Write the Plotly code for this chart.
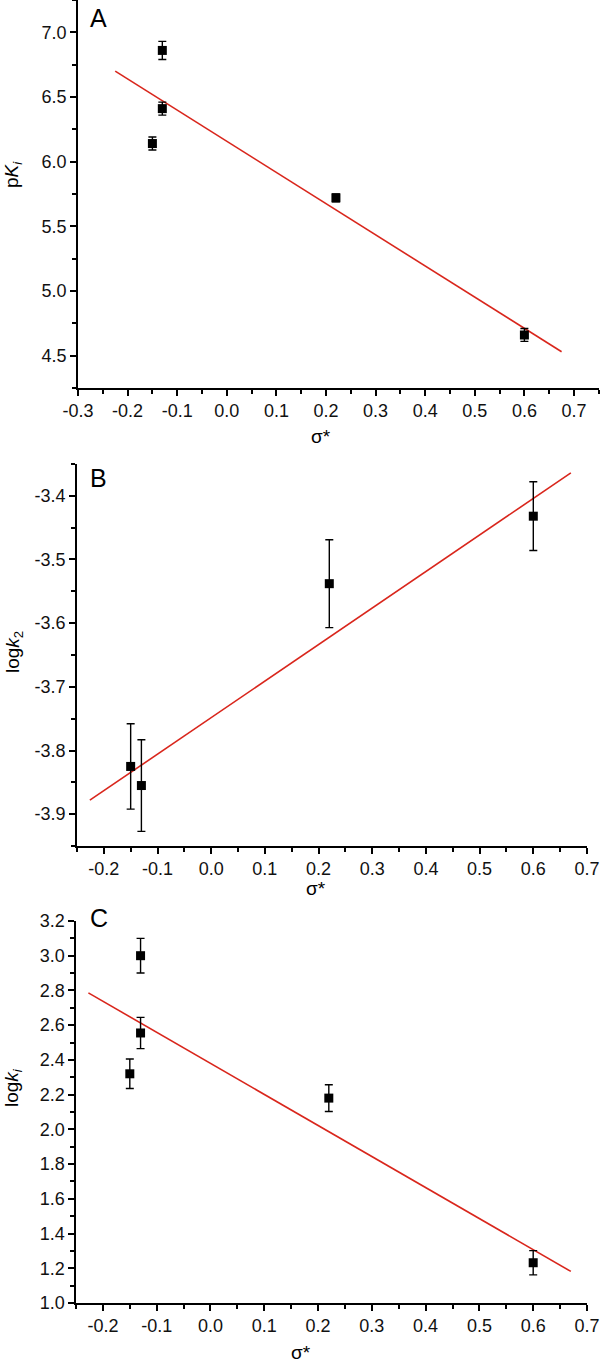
import plotly.graph_objects as go

# Panel A: pKi vs sigma*
sigma_a = [-0.15, -0.13, -0.13, 0.22, 0.60]
pki = [6.14, 6.86, 6.41, 5.72, 4.66]
pki_err = [0.05, 0.07, 0.05, 0.03, 0.05]
fit_a_x = [-0.225, 0.675]
fit_a_y = [6.70, 4.53]

# Panel B: log k2 vs sigma*
sigma_b = [-0.15, -0.13, 0.22, 0.60]
logk2 = [-3.825, -3.855, -3.538, -3.432]
logk2_err = [0.067, 0.072, 0.069, 0.054]
fit_b_x = [-0.226, 0.670]
fit_b_y = [-3.878, -3.364]

# Panel C: log ki vs sigma*
sigma_c = [-0.15, -0.13, -0.13, 0.22, 0.60]
logki = [2.32, 3.00, 2.555, 2.18, 1.232]
logki_err = [0.085, 0.10, 0.09, 0.077, 0.07]
fit_c_x = [-0.227, 0.670]
fit_c_y = [2.786, 1.182]

# tick labels (hyphen minus, as in the original)
xt_a = [-0.3, -0.2, -0.1, 0.0, 0.1, 0.2, 0.3, 0.4, 0.5, 0.6, 0.7]
xt_bc = xt_a[1:]
yt_a = [4.5, 5.0, 5.5, 6.0, 6.5, 7.0]
yt_b = [-3.9, -3.8, -3.7, -3.6, -3.5, -3.4]
yt_c = [1.0, 1.2, 1.4, 1.6, 1.8, 2.0, 2.2, 2.4, 2.6, 2.8, 3.0, 3.2]


def lab(vals):
    return [f"{v:.1f}" for v in vals]


FONT = "Liberation Sans, Arial, sans-serif"
RED = "#d9261c"

fig = go.Figure()

panels = [
    ("x", "y", sigma_a, pki, pki_err, fit_a_x, fit_a_y),
    ("x2", "y2", sigma_b, logk2, logk2_err, fit_b_x, fit_b_y),
    ("x3", "y3", sigma_c, logki, logki_err, fit_c_x, fit_c_y),
]
for xa, ya, xs, ys, es, fx, fy in panels:
    fig.add_trace(go.Scatter(
        x=fx, y=fy, mode="lines", xaxis=xa, yaxis=ya,
        line=dict(color=RED, width=1.6), showlegend=False,
    ))
    fig.add_trace(go.Scatter(
        x=xs, y=ys, mode="markers", xaxis=xa, yaxis=ya,
        marker=dict(symbol="square", size=9, color="black"),
        error_y=dict(type="data", array=es, color="black", thickness=1.4, width=4),
        showlegend=False,
    ))

axis_common = dict(
    showline=True, linecolor="black", linewidth=1.5, mirror=False,
    showgrid=False, zeroline=False, automargin=False,
    ticks="outside", ticklen=6, tickwidth=1.5, tickcolor="black",
    tickfont=dict(family=FONT, size=18, color="#111"),
)
minor_x = dict(ticks="outside", dtick=0.05, tick0=0, ticklen=4, tickcolor="black", tickwidth=1.5)

fig.update_layout(
    width=600, height=1365,
    margin=dict(l=0, r=0, t=0, b=0),
    paper_bgcolor="white", plot_bgcolor="white",
    xaxis=dict(axis_common, domain=[0.130, 0.998], range=[-0.3, 0.75], anchor="y",
               tickvals=xt_a, ticktext=lab(xt_a), minor=minor_x),
    yaxis=dict(axis_common, domain=[0.7158, 1.0], range=[4.25, 7.25], anchor="x",
               tickvals=yt_a, ticktext=lab(yt_a),
               minor=dict(minor_x, dtick=0.25)),
    xaxis2=dict(axis_common, domain=[0.1283, 0.9783], range=[-0.25, 0.7], anchor="y2",
                tickvals=xt_bc, ticktext=lab(xt_bc), minor=minor_x),
    yaxis2=dict(axis_common, domain=[0.3802, 0.6601], range=[-3.95, -3.35], anchor="x2",
                tickvals=yt_b, ticktext=lab(yt_b),
                minor=dict(minor_x, dtick=0.05)),
    xaxis3=dict(axis_common, domain=[0.1267, 0.9783], range=[-0.25, 0.7], anchor="y3",
                tickvals=xt_bc, ticktext=lab(xt_bc), minor=minor_x),
    yaxis3=dict(axis_common, domain=[0.0454, 0.3253], range=[1.0, 3.2], anchor="x3",
                tickvals=yt_c, ticktext=lab(yt_c),
                minor=dict(minor_x, dtick=0.1)),
)

ann = []
# panel letters
for txt, x, y in [("A", 98, 18), ("B", 98, 478), ("C", 99, 918)]:
    ann.append(dict(text=txt, x=x / 600, y=1 - y / 1365, xref="paper", yref="paper",
                    xanchor="center", yanchor="middle", showarrow=False,
                    font=dict(family=FONT, size=25, color="black")))
# x titles
for x, y in [(321, 437), (316, 888), (301, 1352)]:
    ann.append(dict(text="σ*", x=x / 600, y=1 - y / 1365, xref="paper", yref="paper",
                    xanchor="center", yanchor="middle", showarrow=False,
                    font=dict(family=FONT, size=19, color="black")))
# y titles
for txt, x, y in [("p<i>K</i><sub><i>i</i></sub>", 13, 175),
                  ("log<i>k</i><sub>2</sub>", 14, 652),
                  ("log<i>k</i><sub><i>i</i></sub>", 13, 1088)]:
    ann.append(dict(text=txt, x=x / 600, y=1 - y / 1365, xref="paper", yref="paper",
                    xanchor="center", yanchor="middle", showarrow=False, textangle=-90,
                    font=dict(family=FONT, size=19, color="black")))
fig.update_layout(annotations=ann)

# drop the browser's default page margin so the figure sits at the window's corner
fig.write_html("out.html", config={"displayModeBar": False},
               post_script="document.body.style.margin='0';")
